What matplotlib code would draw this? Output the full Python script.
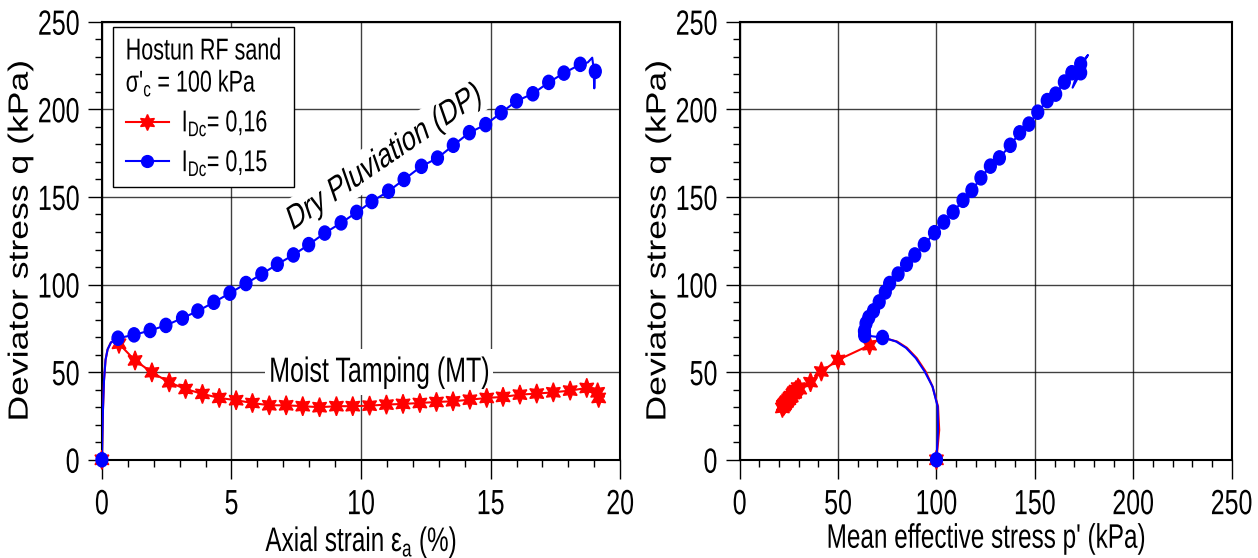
import numpy as np
import matplotlib.pyplot as plt
from matplotlib.ticker import MultipleLocator
from matplotlib.patheffects import AbstractPathEffect
from matplotlib.transforms import Affine2D
from matplotlib.text import Text

plt.rcParams['font.family'] = ['Liberation Sans', 'DejaVu Sans']
plt.rcParams['mathtext.default'] = 'regular'

# ---- Dry Pluviation (DP), I_Dc = 0.15 : markers
dp_eps = [0, 0.62, 1.24, 1.86, 2.47, 3.11, 3.70, 4.32, 4.94, 5.56, 6.17, 6.77, 7.39,
          7.98, 8.60, 9.23, 9.83, 10.42, 11.06, 11.66, 12.33, 12.95, 13.56, 14.18,
          14.81, 15.41, 16.0, 16.63, 17.24, 17.83, 18.46, 19.04]
dp_q = [0, 69.4, 71.3, 73.8, 76.7, 80.9, 84.9, 89.9, 95.1, 100.6, 106, 111.6, 116.9,
        122.8, 129.4, 135.2, 141.2, 147.4, 153.3, 160, 167.5, 172.2, 179.5, 186.7,
        191.3, 198.1, 204.8, 208.9, 215.4, 220.7, 225.7, 221.7]
dp_p = [100, 72.6, 63.5, 63.4, 64.2, 65.6, 68, 70.9, 74, 76.2, 80.5, 84.8, 89, 93.8,
        99, 103.7, 108.5, 113.5, 118, 122.6, 127.4, 132, 137.5, 142.3, 147, 151.5,
        156.3, 160.6, 165, 168.8, 173.3, 173.3]
dp_qp = [0, 69.8, 71.0, 73.5, 77.8, 81.2, 85, 90.1, 95.8, 100.6, 106, 111.6, 116.9,
         122.8, 129.6, 135.7, 141.4, 148.1, 153.8, 160.9, 167.6, 172.3, 179.5, 186.6,
         191.6, 198.4, 205, 208.7, 215.6, 220.9, 225.9, 220.9]

# DP curve details (start and end of the test)
dp_eps_start = [0, 0.04, 0.08, 0.14, 0.22, 0.35, 0.62]
dp_q_start = [0, 28, 45, 57, 63, 67, 69.4]
dp_eps_end = [18.46, 18.75, 18.92, 18.97, 19.0, 19.02, 19.04]
dp_q_end = [225.7, 226.8, 229.5, 224, 212, 218, 221.7]
dp_p_start = [100, 100.8, 100.6, 98, 94, 89.5, 84.5, 79.5, 74.6, 72.6]
dp_qp_start = [0, 17, 30.4, 41.8, 50.4, 58, 63.9, 67.5, 69.2, 69.8]
dp_p_end = [173.3, 177, 172, 169.2, 173.3]
dp_qp_end = [225.9, 231, 222, 212.4, 220.9]

# ---- Moist Tamping (MT), I_Dc = 0.16 : markers
mt_eps = [0, 0.66, 1.28, 1.93, 2.60, 3.23, 3.88, 4.53, 5.18, 5.81, 6.46, 7.11, 7.75,
          8.40, 9.05, 9.68, 10.33, 10.98, 11.62, 12.27, 12.91, 13.55, 14.20, 14.85,
          15.48, 16.13, 16.78, 17.42, 18.07, 18.71, 19.13, 19.17]
mt_q = [0, 66.2, 56.7, 49.9, 44.2, 40.4, 37.6, 35.3, 34.0, 32.4, 31.1, 31.1, 30.6,
        30.0, 30.6, 30.6, 30.9, 31.5, 31.9, 32.4, 33.0, 33.4, 34.3, 35.3, 35.9, 37.2,
        37.8, 38.5, 39.5, 41.0, 38.5, 35.3]
mt_p = [100, 66, 50, 41.5, 36, 30.5, 28, 26.2, 25, 23.8, 22.7, 22.6, 22.2, 21.7,
        22.2, 22.2, 22.4, 22.8, 23.1, 23.5, 23.9, 24.2, 24.9, 25.6, 26, 27, 27.4,
        27.9, 28.6, 29.7, 27.9, 25.6]
mt_qp = [0, 65.4, 57, 50.4, 44.3, 40.3, 38, 35.8, 34.3, 32.8, 31.4, 31.3, 30.8, 29.6,
         30.6, 30.8, 31.2, 31.8, 32.2, 32.8, 33.4, 33.8, 34.8, 35.6, 36.3, 37.5,
         38.2, 38.9, 39.8, 41.2, 38.8, 35.6]

mt_eps_start = [0, 0.04, 0.08, 0.14, 0.22, 0.35, 0.5, 0.66]
mt_q_start = [0, 28, 45, 57, 63, 67, 68, 66.2]
mt_p_start = [100, 101.4, 100.8, 98, 94.5, 90, 85, 80, 75, 70, 66]
mt_qp_start = [0, 17, 30.4, 41.8, 50.4, 58, 63.9, 67.5, 69, 68.3, 65.4]

red = '#ff0000'
blue = '#0000ff'
star = (6, 1, 0)


class Stretch(AbstractPathEffect):
    """stretch a drawn path vertically about its own centre (tall glyphs)"""
    def __init__(self, k):
        super().__init__()
        self.k = k

    def draw_path(self, renderer, gc, tpath, affine, rgbFace=None):
        ext = tpath.get_extents(affine)
        cy = 0.5 * (ext.y0 + ext.y1)
        a = affine + Affine2D().translate(0, -cy).scale(1, self.k).translate(0, cy)
        renderer.draw_path(gc, tpath, a, rgbFace)


fig = plt.figure(figsize=(12.58, 5.58), dpi=100)
ax1 = fig.add_axes([0.081, 0.176, 0.412, 0.785])
ax2 = fig.add_axes([0.588, 0.176, 0.391, 0.785])

mk = []
# left: q vs axial strain
ax1.plot(mt_eps_start + mt_eps[2:], mt_q_start + mt_q[2:], color=red, lw=1.5, zorder=3)
mk += ax1.plot(mt_eps, mt_q, ls='none', marker=star, ms=11.5, color=red,
               clip_on=False, zorder=4)
ax1.plot(dp_eps_start + dp_eps[2:-2] + dp_eps_end, dp_q_start + dp_q[2:-2] + dp_q_end,
         color=blue, lw=1.5, zorder=5)
mk += ax1.plot(dp_eps, dp_q, ls='none', marker='o', ms=8.5, color=blue,
               clip_on=False, zorder=6)

# right: q vs p'
ax2.plot(mt_p_start + mt_p[2:], mt_qp_start + mt_qp[2:], color=red, lw=1.5, zorder=3)
mk += ax2.plot(mt_p, mt_qp, ls='none', marker=star, ms=11.5, color=red,
               clip_on=False, zorder=4)
ax2.plot(dp_p_start + dp_p[2:-2] + dp_p_end, dp_qp_start + dp_qp[2:-2] + dp_qp_end,
         color=blue, lw=1.5, zorder=5)
mk += ax2.plot(dp_p, dp_qp, ls='none', marker='o', ms=8.5, color=blue,
               clip_on=False, zorder=6)
for m in mk:
    m.set_path_effects([Stretch(1.2)])

ylabels = []
for ax in (ax1, ax2):
    ax.set_ylim(0, 250)
    ax.yaxis.set_major_locator(MultipleLocator(50))
    ax.yaxis.set_minor_locator(MultipleLocator(10))
    ax.grid(True, which='major', color='black', lw=1.0, alpha=0.75)
    ax.tick_params(which='major', direction='out', width=1, labelsize=18)
    ax.tick_params(axis='y', which='major', length=10, pad=6)
    ax.tick_params(axis='x', which='major', length=14, pad=9)
    ax.tick_params(which='minor', direction='out', length=5, width=1)
    for s in ax.spines.values():
        s.set_linewidth(1.5)
    ylabels.append(ax.set_ylabel('Deviator stress q (kPa)', fontsize=20, labelpad=3))

ax1.set_xlim(0, 20)
ax1.xaxis.set_major_locator(MultipleLocator(5))
ax1.xaxis.set_minor_locator(MultipleLocator(1))
ax1.set_xlabel(r'Axial strain $\varepsilon_a$ (%)', fontsize=17.5, labelpad=10)

ax2.set_xlim(0, 250)
ax2.xaxis.set_major_locator(MultipleLocator(50))
ax2.xaxis.set_minor_locator(MultipleLocator(10))
ax2.set_xlabel("Mean effective stress p' (kPa)", fontsize=17.5, labelpad=9)

t_dp = ax1.text(10.9, 173, 'Dry Pluviation (DP)', fontsize=18, rotation=26,
                ha='center', va='center', zorder=2,
                bbox=dict(facecolor='white', edgecolor='none', pad=2))
t_mt = ax1.text(10.7, 50, 'Moist Tamping (MT)', fontsize=18, ha='center', va='center',
                zorder=2, bbox=dict(facecolor='white', edgecolor='none', pad=3))

h_mt, = ax1.plot([], [], color=red, lw=1.5, marker=star, ms=11.5)
h_dp, = ax1.plot([], [], color=blue, lw=1.5, marker='o', ms=8.5)
leg = ax1.legend([h_mt, h_dp], [r'I$_{Dc}$= 0,16', r'I$_{Dc}$= 0,15'],
                 title="Hostun RF sand\n" + r"σ'$_c$ = 100 kPa",
                 loc='upper left', bbox_to_anchor=(0.021, 0.987), borderaxespad=0,
                 fontsize=15.5, title_fontsize=15.5, fancybox=False, framealpha=1,
                 edgecolor='black', handlelength=2.0, handletextpad=0.6,
                 labelspacing=0.8, borderpad=0.6)
leg._legend_box.align = 'left'
leg.get_title().set_linespacing(1.55)
leg.get_frame().set_linewidth(1.0)
leg.set_zorder(10)

# tall, narrow-looking lettering as in the original figure
fig.canvas.draw()
for t in fig.findobj(Text):
    t.set_path_effects([Stretch(1.4)])
for t in ylabels:
    t.set_path_effects([Stretch(1.28)])
for t in (t_dp, t_mt):
    t.get_bbox_patch().set_path_effects([Stretch(1.4)])

fig.savefig('out.png', dpi=100)
